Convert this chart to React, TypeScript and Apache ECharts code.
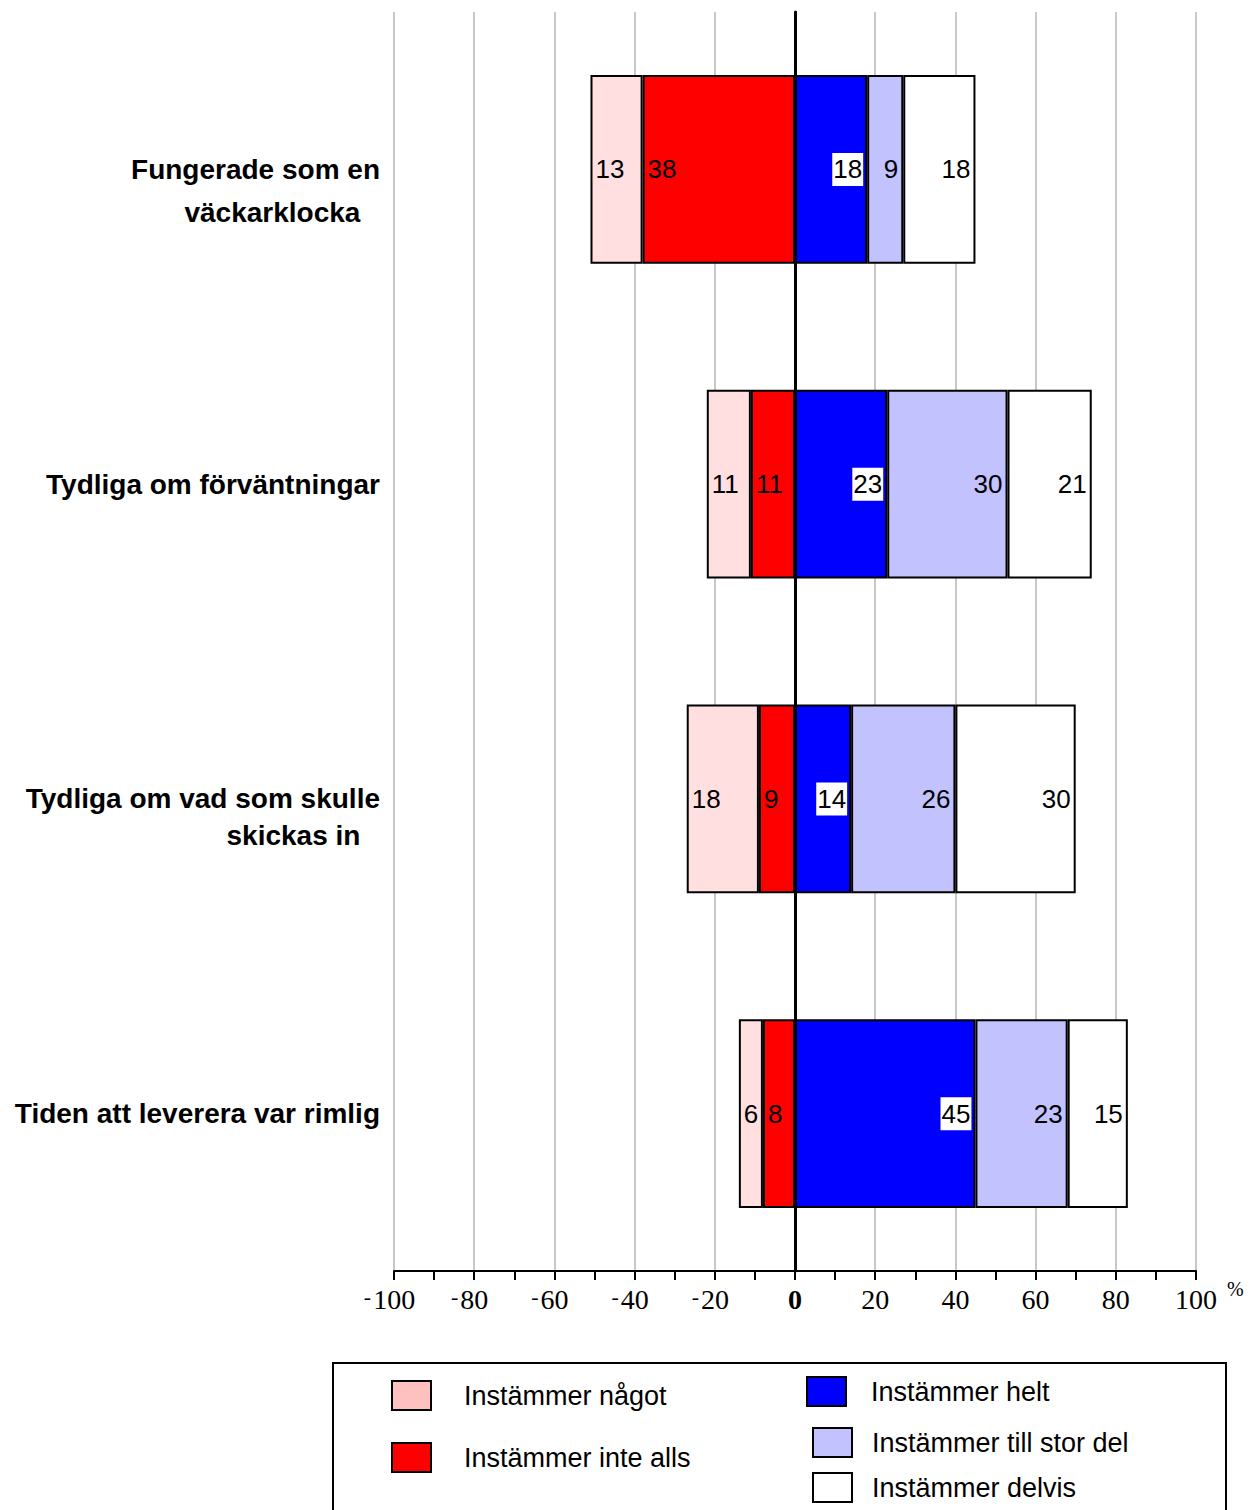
import React, { useEffect, useRef } from "react";
import * as echarts from "echarts";

// Survey statements, top to bottom
const categories = [
  "Fungerade som en\nväckarklocka",
  "Tydliga om förväntningar",
  "Tydliga om vad som skulle\nskickas in",
  "Tiden att leverera var rimlig",
];

// Shares in percent; disagreement is plotted to the left of zero
const instammerNagot = [13, 11, 18, 6];
const instammerInteAlls = [38, 11, 9, 8];
const instammerHelt = [18, 23, 14, 45];
const instammerTillStorDel = [9, 30, 26, 23];
const instammerDelvis = [18, 21, 30, 15];

const xTicks = [-100, -80, -60, -40, -20, 0, 20, 40, 60, 80, 100];

const SANS = "'Liberation Sans', Arial, sans-serif";
const SERIF = "'Liberation Serif', 'Times New Roman', serif";

// Two-line statements: the first line sits on the bar's centre line,
// the second one hangs below it and is indented a little from the right.
const categoryItems = categories.map((c, i) => {
  if (!c.includes("\n")) return c;
  const [first, second] = c.split("\n");
  return {
    value: c,
    textStyle: { lineHeight: i === 0 ? 43 : 37 },
    label: "\n" + first + "\n" + second + "\u2002\u2009",
  };
});

export default function App() {
  const ref = useRef<HTMLDivElement>(null);

  useEffect(() => {
    if (!ref.current) return;
    const chart = echarts.init(ref.current, undefined, { renderer: "svg" });

    const valueLabel = (pos: string, bg?: string) => ({
      show: true,
      position: pos,
      distance: bg ? 4 : 5,
      color: "#000",
      fontFamily: SANS,
      fontSize: 26,
      backgroundColor: bg,
      padding: bg ? [4, 1, 3, 1] : 0,
      formatter: (p: any) => String(Math.abs(p.value)),
    });

    const barBase = {
      type: "bar",
      stack: "total",
      barWidth: "60%",
      itemStyle: { borderColor: "#000", borderWidth: 2 },
    };

    const legendText = {
      fontFamily: SANS,
      fontSize: 27,
      color: "#000",
      padding: [0, 0, 0, 28],
    };
    const legendBase = {
      orient: "vertical",
      icon: "rect",
      padding: 0,
      itemWidth: 39,
      itemHeight: 29,
      selectedMode: false,
      textStyle: legendText,
    };

    const labelMap: Record<string, string> = {};
    categoryItems.forEach((it: any) => {
      if (typeof it !== "string") labelMap[it.value] = it.label;
    });

    chart.setOption({
      animation: false,
      backgroundColor: "#fff",
      grid: { left: 394, top: 12, width: 802, height: 1259, containLabel: false },
      xAxis: {
        type: "value",
        min: -100,
        max: 100,
        interval: 20,
        name: "%",
        nameLocation: "end",
        nameGap: 31,
        nameTextStyle: {
          fontFamily: SERIF,
          fontSize: 20,
          color: "#000",
          verticalAlign: "top",
          padding: [8, 0, 0, 0],
        },
        axisLine: { show: true, onZero: false, lineStyle: { color: "#000", width: 2 } },
        axisTick: { show: true, inside: false, length: 9, lineStyle: { color: "#000", width: 2 } },
        minorTick: { show: true, splitNumber: 2, length: 9, lineStyle: { color: "#000", width: 2 } },
        splitLine: { show: true, lineStyle: { color: "#c8c8c8", width: 2 } },
        axisLabel: {
          margin: 14,
          fontFamily: SERIF,
          fontSize: 28,
          color: "#000",
          customValues: xTicks,
          formatter: (v: number) =>
            v === 0 ? "{z|0}" : v < 0 ? "{m|-}{n|" + Math.abs(v) + "}{s|}" : String(v),
          rich: {
            z: { fontFamily: SERIF, fontSize: 28, fontWeight: "bold", color: "#000" },
            m: { fontFamily: SERIF, fontSize: 22, color: "#000", padding: [0, 2, 6, 0] },
            n: { fontFamily: SERIF, fontSize: 28, color: "#000" },
            s: { width: 9 },
          },
        },
      },
      yAxis: {
        type: "category",
        inverse: true,
        data: categoryItems.map((it: any) =>
          typeof it === "string" ? it : { value: it.value, textStyle: it.textStyle }
        ),
        axisLine: { show: true, onZero: true, lineStyle: { color: "#000", width: 3 } },
        axisTick: { show: false },
        splitLine: { show: false },
        axisLabel: {
          margin: 14,
          fontFamily: SANS,
          fontSize: 28,
          fontWeight: "bold",
          color: "#000",
          lineHeight: 40,
          align: "right",
          formatter: (v: string) => labelMap[v] ?? v,
        },
      },
      legend: [
        {
          ...legendBase,
          left: 391,
          top: 1380,
          data: [{ name: "Instämmer något", itemStyle: { color: "#ffc0c0" } }],
        },
        { ...legendBase, left: 391, top: 1442, data: ["Instämmer inte alls"] },
        {
          ...legendBase,
          left: 806,
          top: 1376,
          data: ["Instämmer helt"],
          textStyle: { ...legendText, padding: [6, 0, 0, 20] },
        },
        {
          ...legendBase,
          left: 812,
          top: 1427,
          data: ["Instämmer till stor del"],
          textStyle: { ...legendText, padding: [0, 0, 0, 15] },
        },
        {
          ...legendBase,
          left: 812,
          top: 1472,
          data: ["Instämmer delvis"],
          textStyle: { ...legendText, padding: [0, 0, 0, 15] },
        },
      ],
      graphic: [
        {
          type: "rect",
          shape: { x: 333, y: 1363, width: 893, height: 160 },
          style: { fill: "none", stroke: "#000", lineWidth: 2 },
          z: 0,
          silent: true,
        },
      ],
      series: [
        {
          ...barBase,
          name: "Instämmer inte alls",
          color: "#ff0000",
          data: instammerInteAlls.map((v) => -v),
          label: valueLabel("insideLeft"),
        },
        {
          ...barBase,
          name: "Instämmer något",
          color: "#ffdfe0",
          data: instammerNagot.map((v) => -v),
          label: valueLabel("insideLeft"),
        },
        {
          ...barBase,
          name: "Instämmer helt",
          color: "#0000ff",
          data: instammerHelt,
          label: valueLabel("insideRight", "#fff"),
        },
        {
          ...barBase,
          name: "Instämmer till stor del",
          color: "#c2c2ff",
          data: instammerTillStorDel,
          label: valueLabel("insideRight"),
        },
        {
          ...barBase,
          name: "Instämmer delvis",
          color: "#ffffff",
          data: instammerDelvis,
          label: valueLabel("insideRight"),
        },
      ],
    });

    return () => chart.dispose();
  }, []);

  return (
    <div
      ref={ref}
      style={{ position: "absolute", left: 0, top: 0, width: 1252, height: 1510 }}
    />
  );
}
